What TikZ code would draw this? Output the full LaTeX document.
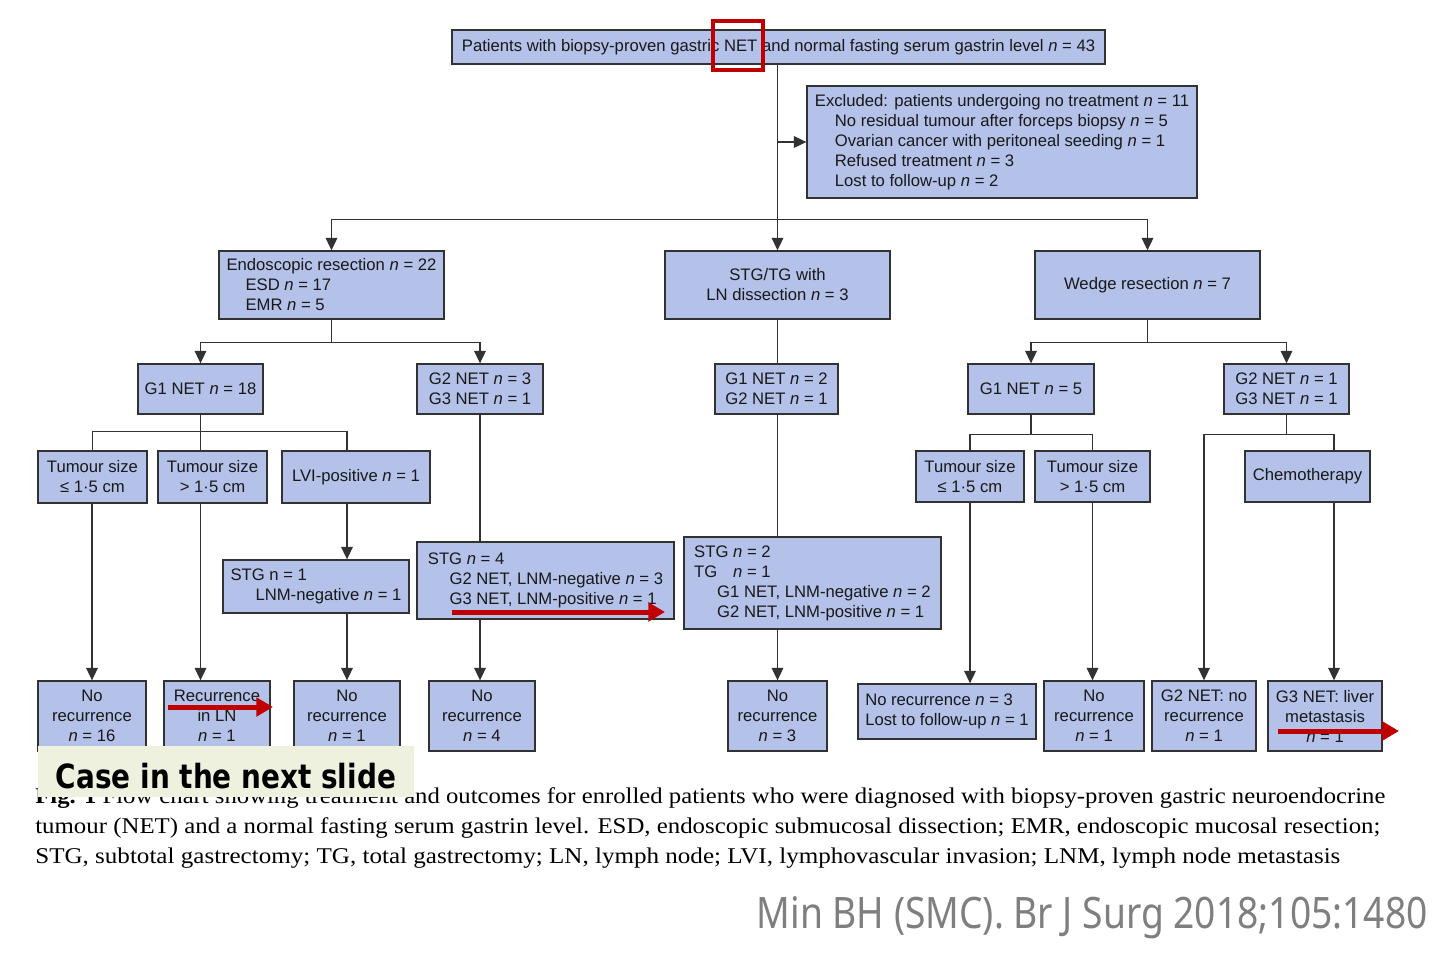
\documentclass[tikz,border=0pt]{standalone}
\usepackage{fontspec}
\setmainfont{Liberation Sans}
\newfontfamily\capfont{Liberation Serif}
\newfontfamily\citefont{Noto Sans}
\newfontfamily\notefont{DejaVu Sans}
\usetikzlibrary{arrows.meta,positioning}
\definecolor{boxfill}{RGB}{180,193,232}
\definecolor{boxline}{RGB}{50,50,50}
\definecolor{annored}{RGB}{192,0,0}
\definecolor{notefill}{RGB}{237,241,222}
\definecolor{citegray}{RGB}{127,127,127}
\newcommand{\nval}[1]{\textit{n} = #1}
\newcommand{\indt}{\hspace*{12pt}}

\begin{document}
\begin{tikzpicture}[x=0.6pt,y=-0.6pt]

  \tikzset{main node/.style={rectangle, draw=boxline, fill=boxfill, line width=0.8pt,
  		inner sep=0pt, align=center, text=black!90, font=\fontsize{10}{12}\selectfont}, }
  \tikzset{lbox/.style={main node, align=left}, }
  \tikzset{linea/.style={draw=boxline, line width=0.75pt, -{Triangle[width=7pt,length=7.5pt]}}, }
  \tikzset{lineb/.style={draw=boxline, line width=0.75pt}, }
  \tikzset{redarrow/.style={draw=annored, line width=3pt, -{Triangle[width=11pt,length=10pt]}}, }

\useasboundingbox (0,0) rectangle (1452,960);
\fill[white] (0,0) rectangle (1452,960);

% first levels
\node[main node, minimum width=391.8pt, minimum height=20.4pt] (top) at (778.5,47) {Patients with biopsy-proven gastric NET and normal fasting serum gastrin level \nval{43}};
\node[lbox, minimum width=234pt, minimum height=67.2pt] (excl) at (1002,142) {Excluded: patients undergoing no treatment \nval{11}\\ \indt No residual tumour after forceps biopsy \nval{5}\\ \indt Ovarian cancer with peritoneal seeding \nval{1}\\ \indt Refused treatment \nval{3}\\ \indt Lost to follow-up \nval{2}};
\node[lbox, minimum width=135pt, minimum height=40.8pt] (endo) at (331.5,285) {Endoscopic resection \nval{22}\\ \hspace*{11.4pt}ESD \nval{17}\\ \hspace*{11.4pt}EMR \nval{5}};
\node[main node, minimum width=135pt, minimum height=40.8pt] (stgtg) at (777.5,285) {STG/TG with\\LN dissection \nval{3}};
\node[main node, minimum width=135pt, minimum height=40.8pt] (wedge) at (1147.5,285) {Wedge resection \nval{7}};

% grades
\node[main node, minimum width=75pt, minimum height=30pt] (g1a) at (200.5,389) {G1 NET \nval{18}};
\node[main node, minimum width=75.6pt, minimum height=30pt] (g23a) at (480,389) {G2 NET \nval{3}\\G3 NET \nval{1}};
\node[main node, minimum width=73.8pt, minimum height=30pt] (g12b) at (776.5,389) {G1 NET \nval{2}\\G2 NET \nval{1}};
\node[main node, minimum width=75.6pt, minimum height=30pt] (g1c) at (1031,389) {G1 NET \nval{5}};
\node[main node, minimum width=75pt, minimum height=30pt] (g23c) at (1286.5,389) {G2 NET \nval{1}\\G3 NET \nval{1}};

% tumour size etc.
\node[main node, minimum width=65.4pt, minimum height=31.2pt] (ts1) at (92.5,477) {Tumour size\\≤ 1·5 cm};
\node[main node, minimum width=65.4pt, minimum height=31.2pt] (ts2) at (212.5,477) {Tumour size\\> 1·5 cm};
\node[main node, minimum width=88.8pt, minimum height=31.2pt] (lvi) at (356,477) {LVI-positive \nval{1}};
\node[main node, minimum width=64.8pt, minimum height=30.6pt] (ts3) at (970,476.5) {Tumour size\\≤ 1·5 cm};
\node[main node, minimum width=69pt, minimum height=30.6pt] (ts4) at (1092.5,476.5) {Tumour size\\> 1·5 cm};
\node[main node, minimum width=75pt, minimum height=30.6pt] (chemo) at (1307.5,476.5) {Chemotherapy};

% surgery
\node[lbox, minimum width=111.6pt, minimum height=31.8pt] (stg1) at (316,586.5) {STG n = 1\\ \hspace*{15pt}LNM-negative \nval{1}};
\node[lbox, minimum width=154.2pt, minimum height=46.2pt] (stg4) at (545.5,580.5) {STG \nval{4}\\ \hspace*{13pt}G2 NET, LNM-negative \nval{3}\\ \hspace*{13pt}G3 NET, LNM-positive \nval{1}};
\node[lbox, minimum width=154.2pt, minimum height=55.2pt] (stg2) at (812.5,583) {STG \nval{2}\\TG\hphantom{S} \nval{1}\\ \hspace*{13.8pt}G1 NET, LNM-negative \nval{2}\\ \hspace*{13.8pt}G2 NET, LNM-positive \nval{1}};

% outcomes
\node[main node, minimum width=64.8pt, minimum height=42pt] (nr16) at (92,716) {No\\recurrence\\\textit{n} = 16};
\node[main node, minimum width=63.6pt, minimum height=42pt] (recln) at (217,716) {Recurrence\\in LN\\\textit{n} = 1};
\node[main node, minimum width=63.6pt, minimum height=42pt] (nr1a) at (347,716) {No\\recurrence\\\textit{n} = 1};
\node[main node, minimum width=63.6pt, minimum height=42pt] (nr4) at (482,716) {No\\recurrence\\\textit{n} = 4};
\node[main node, minimum width=59.4pt, minimum height=42pt] (nr3) at (777.5,716) {No\\recurrence\\\textit{n} = 3};
\node[lbox, minimum width=106.8pt, minimum height=33pt] (nrlost) at (947,711.5) {No recurrence \nval{3}\\Lost to follow-up \nval{1}};
\node[main node, minimum width=60pt, minimum height=42pt] (nr1b) at (1094,716) {No\\recurrence\\\textit{n} = 1};
\node[main node, minimum width=62.4pt, minimum height=42pt] (g2nr) at (1204,716) {G2 NET: no\\recurrence\\\textit{n} = 1};
\node[main node, minimum width=68.4pt, minimum height=42pt] (g3liv) at (1325,716) {G3 NET: liver\\metastasis\\\textit{n} = 1};

% connectors
\draw[linea] (top.south -| stgtg) -- (stgtg.north);
\draw[linea] (stgtg |- excl.west) -- (excl.west);
\path (top.south -| stgtg) ++(0,155) coordinate (j0);
\draw[linea] (j0) -| (endo.north);
\draw[linea] (j0) -| (wedge.north);
\draw[linea] (endo.south) -- ++(0,23) -| (g1a.north);
\draw[linea] (endo.south) -- ++(0,23) -| (g23a.north);
\draw[linea] (wedge.south) -- ++(0,23) -| (g1c.north);
\draw[linea] (wedge.south) -- ++(0,23) -| (g23c.north);

\path (g1a.south) ++(0,17) coordinate (j1);
\draw[lineb] (ts1.north) |- (j1) -| (nr1a |- lvi.north);
\draw[lineb] (g1a.south) -- (g1a |- ts2.north);
\path (g1c.south) ++(0,20) coordinate (j3);
\draw[lineb] (ts3.north) |- (j3) -| (ts4.north);
\draw[lineb] (g1c.south) -- (j3);
\path (g23c.south) ++(0,20) coordinate (j4);
\coordinate (chemocol) at (1334,477);
\draw[lineb] (g23c.south) -- (j4);
\draw[linea] (j4) -| (g2nr.north);
\draw[lineb] (j4) -| (chemocol |- chemo.north);

\foreach \col/\x/\y in {nr16/ts1/nr16, g1a/ts2/recln, nr1a/lvi/stg1, nr1a/stg1/nr1a, g23a/stg4/nr4, stgtg/stg2/nr3, ts3/ts3/nrlost, ts4/ts4/nr1b, chemocol/chemo/g3liv}
  \draw[linea] (\col |- \x.south) -- (\col |- \y.north);
\foreach \col/\x/\y in {g23a/g23a/stg4, stgtg/stgtg/g12b, stgtg/g12b/stg2}
  \draw[lineb] (\col |- \x.south) -- (\col |- \y.north);

% caption and source
\node[anchor=base west, inner sep=0pt, font=\capfont\fontsize{13.5}{16}\selectfont] (cap1) at (35,803.5) {\resizebox{810pt}{\height}{\textbf{Fig. 1} Flow chart showing treatment and outcomes for enrolled patients who were diagnosed with biopsy-proven gastric neuroendocrine}};
\node[anchor=base west, inner sep=0pt, font=\capfont\fontsize{13.5}{16}\selectfont] (cap2) at (35,833.5) {\resizebox{807pt}{\height}{tumour (NET) and a normal fasting serum gastrin level. ESD, endoscopic submucosal dissection; EMR, endoscopic mucosal resection;}};
\node[anchor=base west, inner sep=0pt, font=\capfont\fontsize{13.5}{16}\selectfont] (cap3) at (35,863.5) {\resizebox{783pt}{\height}{STG, subtotal gastrectomy; TG, total gastrectomy; LN, lymph node; LVI, lymphovascular invasion; LNM, lymph node metastasis}};
\node[anchor=base east, inner sep=0pt, text=citegray, font=\citefont\fontsize{26}{30}\selectfont] (cite) at (1428,928) {\resizebox{402.6pt}{\height}{Min BH (SMC). Br J Surg 2018;105:1480}};

% slide marks
\node[fill=notefill, inner sep=0pt, minimum width=225.6pt, text height=25.2pt, text depth=5.4pt, font=\notefont\bfseries\fontsize{20}{24}\selectfont] (note) at (226,771.5) {\resizebox{204pt}{\height}{Case in the next slide}};
\node[draw=annored, line width=2.6pt, minimum width=30pt, minimum height=29.4pt, inner sep=0pt] (netmark) at (738,45.5) {};
\coordinate (r1s) at (452,612); \coordinate (r1e) at (665,612);
\coordinate (r2s) at (168,707); \coordinate (r2e) at (273,707);
\coordinate (r3s) at (1278,731); \coordinate (r3e) at (1399,731);
\foreach \x/\y in {r1s/r1e, r2s/r2e, r3s/r3e}
  \draw[redarrow] (\x) -- (\y);
%%
\end{tikzpicture}
\end{document}
